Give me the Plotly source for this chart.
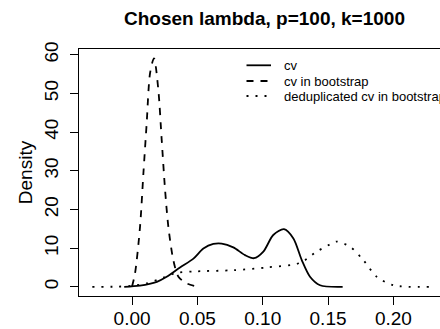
import plotly.graph_objects as go

# Density curves
cv_x = [-0.006, 0.006, 0.019, 0.0265, 0.0367, 0.047, 0.0546, 0.0622, 0.0686, 0.0775,
        0.0865, 0.0934, 0.1005, 0.1081, 0.1163, 0.1235, 0.1299, 0.1362, 0.1439, 0.1612]
cv_y = [0, 0.3, 1.3, 2.6, 5.0, 7.3, 9.9, 11.1, 11.2, 10.2,
        8.2, 7.4, 9.1, 13.4, 14.9, 12.5, 6.9, 2.6, 0.4, 0]

boot_x = [0.0, 0.0023, 0.0061, 0.0087, 0.0112, 0.0138, 0.0168, 0.0201, 0.0227, 0.0253,
          0.0278, 0.0316, 0.0355, 0.0418, 0.0495]
boot_y = [0.1, 3.5, 15.5, 29.4, 42.3, 55.3, 59.1, 51.0, 38.0, 25.0,
          15.5, 6.9, 2.6, 0.9, 0.1]

dedup_x = [-0.0304, -0.0117, 0.001, 0.0112, 0.024, 0.0342, 0.0495, 0.0775, 0.1026, 0.1286,
           0.1413, 0.154, 0.1566, 0.1668, 0.177, 0.1873, 0.2, 0.228]
dedup_y = [0, 0.05, 0.3, 0.9, 2.4, 3.6, 4.0, 4.3, 5.0, 6.2,
           9.1, 11.4, 11.7, 10.4, 6.9, 2.6, 0.4, 0]

series_names = ["cv", "cv in bootstrap", "deduplicated cv in bootstrap"]
series_dash = ["solid", "7px,7px", "2px,7px"]
x_ticks = [0.0, 0.05, 0.10, 0.15, 0.20]
y_ticks = [0, 10, 20, 30, 40, 50, 60]

FONT = "Liberation Sans, Arial, sans-serif"
W, H = 440, 329
ML, MR, MT, MB = 79, 0, 49, 33
PW, PH = W - ML - MR, H - MT - MB


def px_x(p):
    return (p - ML) / PW


def px_y(p):
    return (H - MB - p) / PH


fig = go.Figure()
for xs, ys, name, dash in zip([cv_x, boot_x, dedup_x], [cv_y, boot_y, dedup_y],
                              series_names, series_dash):
    fig.add_trace(go.Scatter(x=xs, y=ys, mode="lines", name=name, showlegend=False,
                             hoverinfo="skip",
                             line=dict(color="black", width=1.8, dash=dash,
                                       shape="spline", smoothing=0.8)))

# Legend drawn in the top-right of the plot (R-style, compact rows)
leg_rows = [65.3, 81.0, 96.0]
for row, name, dash in zip(leg_rows, series_names, series_dash):
    fig.add_shape(type="line", xref="paper", yref="paper",
                  x0=px_x(246.5), x1=px_x(271), y0=px_y(row), y1=px_y(row),
                  line=dict(color="black", width=1.8, dash=dash))
    fig.add_annotation(xref="paper", yref="paper", x=px_x(282), y=px_y(row),
                       xanchor="left", yanchor="middle", text=name, showarrow=False,
                       font=dict(size=13, family=FONT, color="black"))

fig.update_layout(
    width=W, height=H,
    margin=dict(l=ML, r=MR, t=MT, b=MB, autoexpand=False),
    paper_bgcolor="white", plot_bgcolor="white",
    font=dict(family=FONT, color="black", size=19),
    title=dict(text="<b>Chosen lambda, p=100, k=1000</b>", x=264.5 / W, xanchor="center",
               y=1 - 18 / H, yanchor="middle", font=dict(size=19, family=FONT)),
    showlegend=False,
    hovermode=False,
    xaxis=dict(range=[-0.0406, 0.2357], tickvals=x_ticks, tickformat=".2f",
               showline=True, linecolor="black", linewidth=1, mirror=True,
               ticks="outside", ticklen=8, tickcolor="black", automargin=False,
               showgrid=False, zeroline=False, tickfont=dict(size=19),
               ticklabelstandoff=-3),
    yaxis=dict(range=[-2.37, 61.5], tickvals=y_ticks, tickangle=-90,
               showline=True, linecolor="black", linewidth=1, automargin=False,
               ticks="outside", ticklen=8, tickcolor="black",
               showgrid=False, zeroline=False, tickfont=dict(size=19),
               ticklabelstandoff=4,
               title=dict(text="Density", font=dict(size=19), standoff=3)),
)

fig.write_html("out.html", config={"displayModeBar": False},
               post_script="document.body.style.margin='0';")
